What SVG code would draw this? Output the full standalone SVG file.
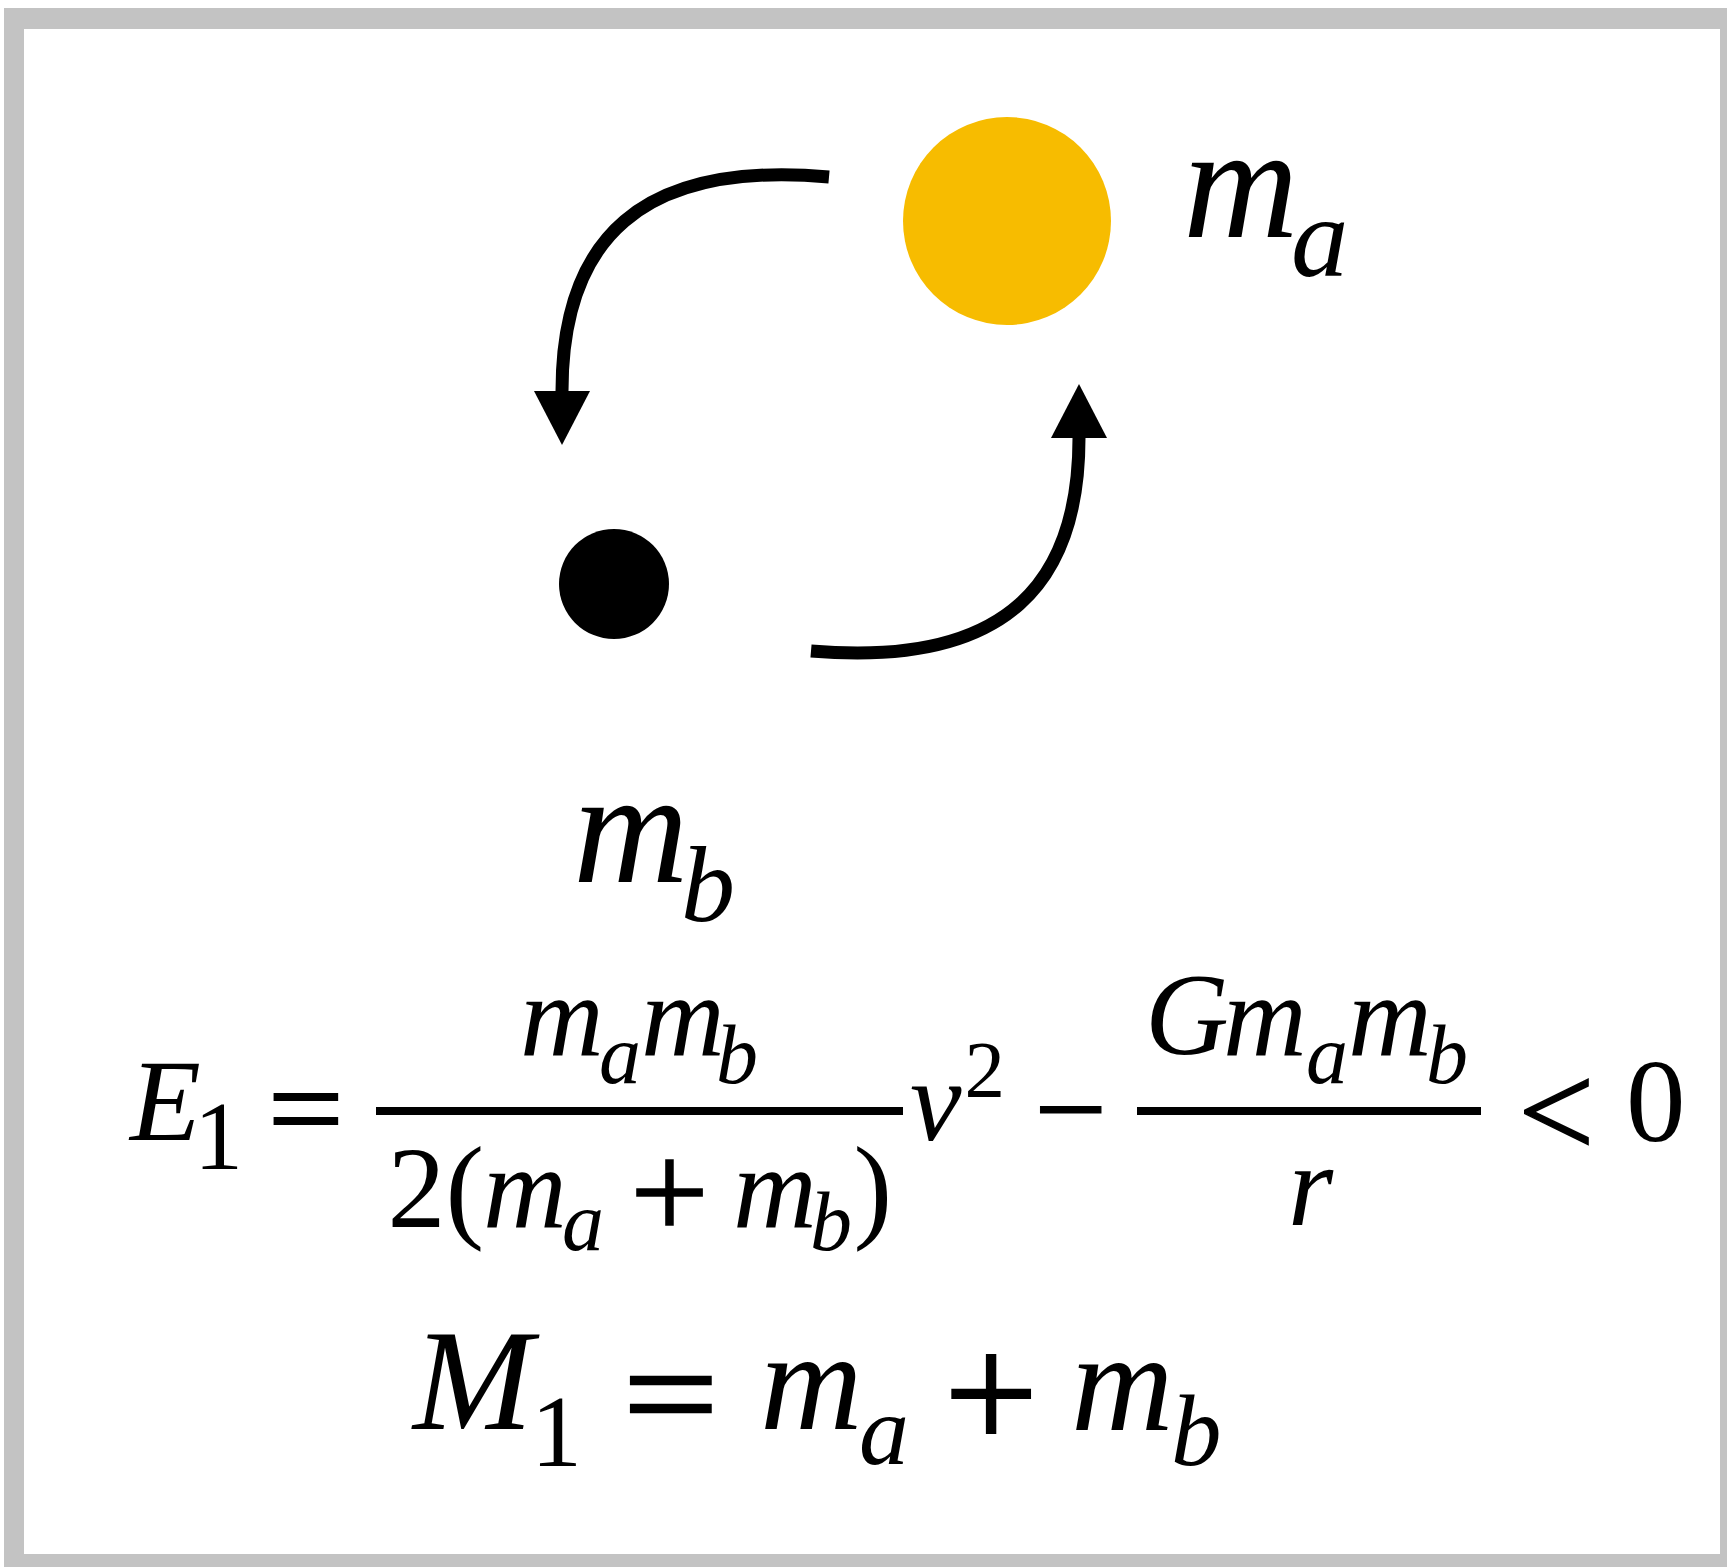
<svg xmlns="http://www.w3.org/2000/svg" width="1727" height="1567" viewBox="0 0 1727 1567">
  <defs>
    <style>
      .v { font-family: "Liberation Serif", "Times New Roman", serif; font-style: italic; fill: #000; }
      .r { font-family: "Liberation Serif", "Times New Roman", serif; fill: #000; }
      .op { font-family: "Liberation Serif", "Times New Roman", serif; fill: #000; stroke: #000; }
      .conn { fill: none; stroke: #000; stroke-width: 13; }
      .bar { fill: #000; }
    </style>
    <marker id="ah" markerUnits="userSpaceOnUse" markerWidth="54" markerHeight="56" viewBox="0 0 54 56" refX="0" refY="28" orient="auto">
      <path d="M0,0 L54,28 L0,56 Z" fill="#000"/>
    </marker>
  </defs>

  <rect x="4" y="8" width="1730" height="1570" fill="#c3c3c3"/>
  <rect x="24" y="29" width="1696" height="1525" fill="#ffffff"/>

  <g id="connectors">
    <path class="conn" d="M829,177 C640,160 562,240 562,391" marker-end="url(#ah)"/>
    <path class="conn" d="M811,651 C1010,668 1079,580 1079,438" marker-end="url(#ah)"/>
  </g>

  <g id="node-ma">
    <circle cx="1007" cy="221" r="104" fill="#F7BC00"/>
    <text class="v" x="1183" y="237" font-size="160">m</text>
    <text class="v" x="1291" y="276" font-size="115">a</text>
  </g>

  <g id="node-mb">
    <circle cx="614" cy="584" r="55" fill="#000"/>
    <text class="v" x="573" y="882" font-size="160">m</text>
    <text class="v" x="681" y="921" font-size="108">b</text>
  </g>

  <g id="equation-E1">
    <text class="v" x="130" y="1140" font-size="116">E</text>
    <text class="r" x="194" y="1169" font-size="98">1</text>
    <text class="op" transform="translate(268,1149) scale(1.117,1)" x="0" y="0" font-size="120" stroke-width="2">=</text>
    <rect class="bar" x="376" y="1107" width="527" height="8"/>
    <text class="v" x="520" y="1055" font-size="116">m</text>
    <text class="v" x="599" y="1083" font-size="84">a</text>
    <text class="v" x="641" y="1055" font-size="116">m</text>
    <text class="v" x="716" y="1083" font-size="84">b</text>
    <text class="r" x="387.5" y="1227" font-size="116">2(</text>
    <text class="v" x="483" y="1227" font-size="116">m</text>
    <text class="v" x="562" y="1250" font-size="84">a</text>
    <text class="op" x="630" y="1239" font-size="140" stroke-width="1.5">+</text>
    <text class="v" x="733" y="1227" font-size="116">m</text>
    <text class="v" x="810" y="1250" font-size="84">b</text>
    <text class="r" x="853.6" y="1227" font-size="116">)</text>
    <text class="v" x="910" y="1140" font-size="116">v</text>
    <text class="r" x="964.6" y="1097" font-size="81">2</text>
    <text class="op" x="1034" y="1153" font-size="130" stroke-width="1">−</text>
    <rect class="bar" x="1137" y="1107" width="344" height="8"/>
    <text class="v" x="1145" y="1054" font-size="116">G</text>
    <text class="v" x="1223" y="1055" font-size="116">m</text>
    <text class="v" x="1306" y="1083" font-size="84">a</text>
    <text class="v" x="1348" y="1055" font-size="116">m</text>
    <text class="v" x="1426" y="1083" font-size="84">b</text>
    <text class="v" x="1288" y="1225" font-size="116">r</text>
    <text class="op" x="1518" y="1157" font-size="136" stroke-width="1.5">&lt;</text>
    <text class="r" x="1626" y="1141" font-size="119">0</text>
  </g>

  <g id="equation-M1">
    <text class="v" x="413" y="1429" font-size="144">M</text>
    <text class="r" x="531" y="1466" font-size="102">1</text>
    <text class="op" transform="translate(623,1441) scale(1.21,1)" x="0" y="0" font-size="140" stroke-width="2.5">=</text>
    <text class="v" x="760" y="1429" font-size="142">m</text>
    <text class="v" x="859" y="1464" font-size="100">a</text>
    <text class="op" x="944" y="1450" font-size="167" stroke-width="2">+</text>
    <text class="v" x="1071" y="1430" font-size="142">m</text>
    <text class="v" x="1171" y="1465" font-size="101">b</text>
  </g>
</svg>
